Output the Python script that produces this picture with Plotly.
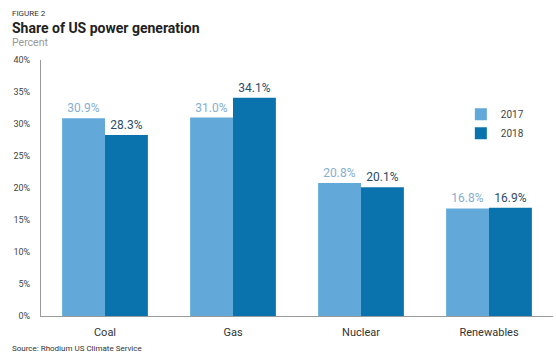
import plotly.graph_objects as go

categories = ["Coal", "Gas", "Nuclear", "Renewables"]
share_2017 = [30.9, 31.0, 20.8, 16.8]
share_2018 = [28.3, 34.1, 20.1, 16.9]
y_ticks = [0, 5, 10, 15, 20, 25, 30, 35, 40]
y_tick_labels = ["0%", "5%", "10%", "15%", "20%", "25%", "30%", "35%", "40%"]

FONT = "Roboto"
c17 = "#62a9d9"
c18 = "#0a73ad"

fig = go.Figure()
fig.add_trace(go.Bar(
    x=categories, y=share_2017, name="2017", marker=dict(color=c17, line=dict(width=0)),
    texttemplate="%{y:.1f}%", textposition="outside", cliponaxis=False,
    textfont=dict(family=FONT, size=12, color="#86aed0"),
))
fig.add_trace(go.Bar(
    x=categories, y=share_2018, name="2018", marker=dict(color=c18, line=dict(width=0)),
    texttemplate="%{y:.1f}%", textposition="outside", cliponaxis=False,
    textfont=dict(family=FONT, size=12, color="#2b4d6b"),
))

fig.update_layout(
    width=556, height=361,
    margin=dict(l=41, r=3, t=60, b=45),
    paper_bgcolor="white", plot_bgcolor="white",
    barmode="group", bargap=0.33, bargroupgap=0,
    font=dict(family=FONT, color="#333333"),
    showlegend=True,
    legend=dict(
        x=0.82, y=0.845, xanchor="left", yanchor="top",
        font=dict(family=FONT, size=10, color="#444444"),
        bgcolor="rgba(0,0,0,0)", itemwidth=30,
    ),
    xaxis=dict(
        showline=True, linecolor="#9a9a9a", linewidth=1, ticks="",
        tickfont=dict(family=FONT, size=11, color="#333333"),
        showgrid=False, ticklabelstandoff=6,
    ),
    yaxis=dict(
        range=[0, 40], tickvals=y_ticks, ticktext=y_tick_labels,
        showline=True, linecolor="#9a9a9a", linewidth=1, ticks="",
        showgrid=False, zeroline=False,
        tickfont=dict(family=FONT, size=9, color="#444444"), ticklabelstandoff=8,
    ),
    annotations=[
        dict(text="FIGURE 2", xref="paper", yref="paper", x=-0.06, y=1.18,
             xanchor="left", yanchor="middle", showarrow=False,
             font=dict(family=FONT, size=8, color="#333333")),
        dict(text="<b>Share of US power generation</b>", xref="paper", yref="paper", x=-0.06, y=1.125,
             xanchor="left", yanchor="middle", showarrow=False,
             font=dict(family=FONT, size=14, color="#222222")),
        dict(text="Percent", xref="paper", yref="paper", x=-0.06, y=1.07,
             xanchor="left", yanchor="middle", showarrow=False,
             font=dict(family=FONT, size=10.5, color="#999999")),
        dict(text="Source: Rhodium US Climate Service", xref="paper", yref="paper", x=-0.06, y=-0.125,
             xanchor="left", yanchor="middle", showarrow=False,
             font=dict(family=FONT, size=8, color="#333333")),
    ],
)

fig.write_html("out.html", config={"displayModeBar": False},
               post_script="document.body.style.margin='0';")
